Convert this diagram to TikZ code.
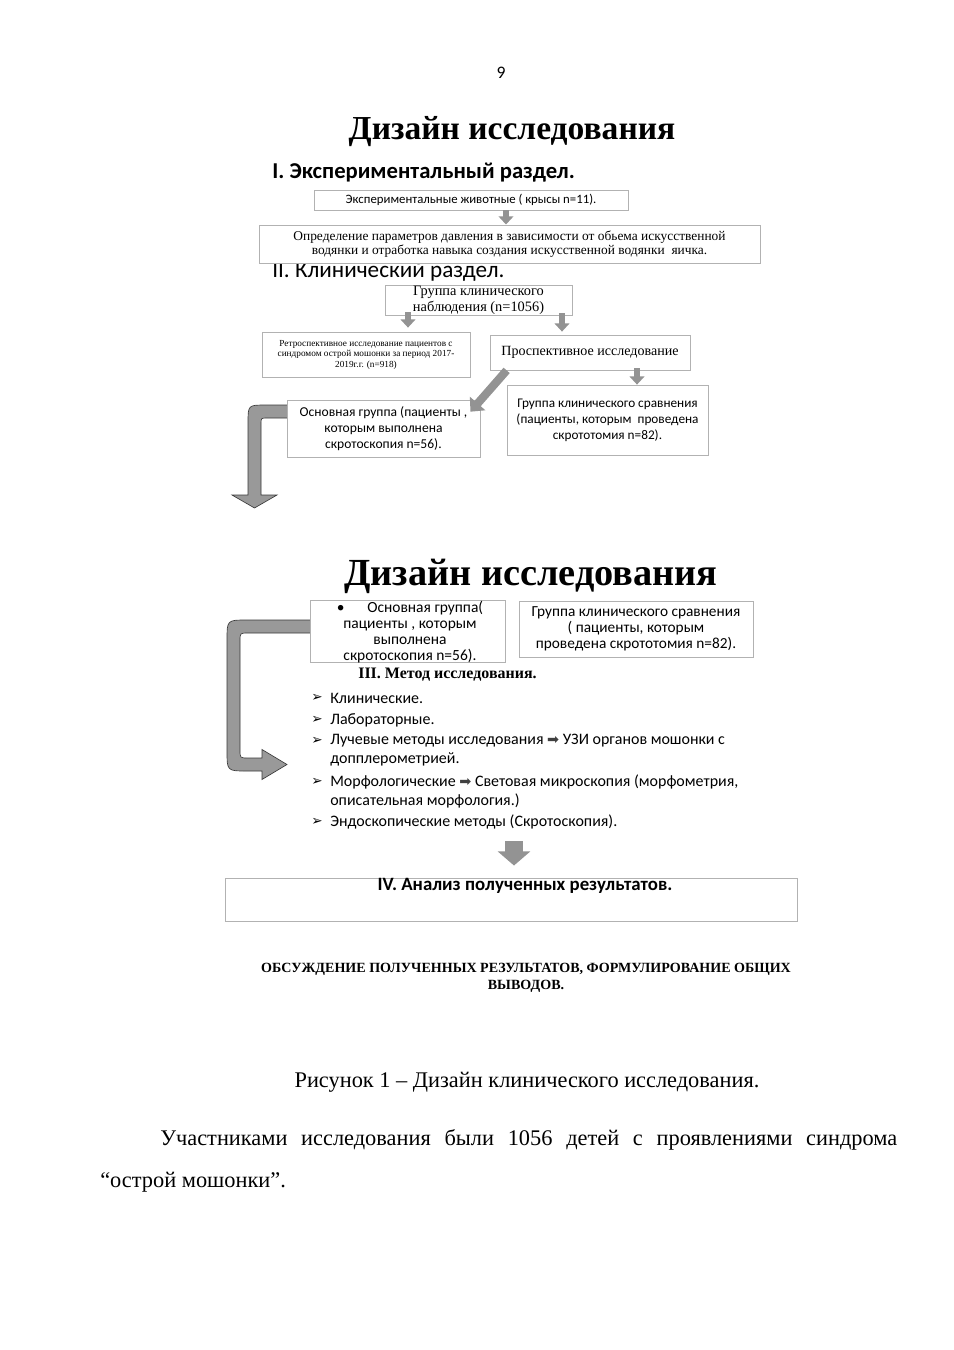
\documentclass[tikz,border=0pt]{standalone}
\usepackage{fontspec}
\setmainfont{Liberation Serif}
\newfontfamily\calibri{Carlito}
\newfontfamily\dejavu{DejaVu Sans}
\usepackage{tikz}
\usetikzlibrary{arrows.meta,positioning,calc}
\tikzset{
  box/.style={draw=gray!60, fill=white, line width=0.5pt, align=center,
              inner sep=0pt},
  ttl/.style={font=\bfseries\fontsize{21}{24}\selectfont, inner sep=0pt},
  sec/.style={anchor=west, inner sep=0pt},
  lst/.style={anchor=west, inner sep=0pt, align=left,
              font=\calibri\fontsize{10}{11.9}\selectfont},
  bul/.style={anchor=west, inner sep=0pt, font=\dejavu\fontsize{8.5}{9}\selectfont},
  blk/.style={line width=1.3mm, draw=gray!85,
              -{Triangle[width=3.2mm, length=1.8mm]}},
  blkd/.style={line width=1.8mm, draw=gray!85,
               -{Triangle[width=4.4mm, length=2.4mm]}},
  blkbig/.style={line width=4mm, draw=gray!85,
                 -{Triangle[width=7mm, length=3.1mm]}},
  bent/.style={fill=gray!80, draw=gray!45!black, line width=0.4pt},
}
\newcommand{\thickarr}{{\dejavu\color{gray!50!black}\fontsize{9}{9}\selectfont ➡}}

\begin{document}
\begin{tikzpicture}[x=0.2201mm, y=-0.2201mm]
  \useasboundingbox (0,0) rectangle (954,1350);
  \fill[white] (0,0) rectangle (954,1350);
  % page number and title
  \node[font=\calibri\fontsize{11}{13}\selectfont] (pg) at (501,73) {9};
  \node[ttl] (t1) at (512,132) {Дизайн исследования};
  % I. experimental part
  \node[sec, font=\calibri\bfseries\fontsize{14.2}{16}\selectfont] (s1)
    at (272,173) {I. Экспериментальный раздел.};
  \node[box, minimum width=69.1mm, minimum height=4.4mm,
        font=\calibri\fontsize{8}{9.5}\selectfont] (exp) at (471,200)
    {Экспериментальные животные ( крысы n=11).};
  % II. clinical part (heading sits partly under the box above)
  \node[sec, font=\calibri\fontsize{14.5}{16}\selectfont] (s2)
    at (272,272) {II. Клинический раздел.};
  \node[box, minimum width=110.3mm, minimum height=8.4mm,
        font=\fontsize{8.4}{9}\selectfont] (param) at (509.5,244)
    {Определение параметров давления в зависимости от обьема искусственной\\
     водянки и отработка навыка создания искусственной водянки\ \ яичка.};
  \node[box, minimum width=41.2mm, minimum height=6.6mm,
        font=\fontsize{9}{10}\selectfont] (obs) at (478.5,300)
    {Группа клинического\\наблюдения (n=1056)};
  \node[box, minimum width=45.8mm, minimum height=9.9mm,
        font=\fontsize{5.8}{6.6}\selectfont] (retro) at (366,354.5)
    {Ретроспективное исследование пациентов с\\
     синдромом острой мошонки за период 2017-\\2019г.г. (n=918)};
  \node[box, minimum width=44mm, minimum height=7.7mm,
        font=\fontsize{8.8}{10}\selectfont] (pros) at (590,352.5)
    {Проспективное исследование};
  % page-break arrow, drawn before the box that hides its tail
  \filldraw[bent] (292,405) -- (266,405) .. controls (248,405) .. (248,423)
    -- (248,495) -- (232,495) -- (254.5,508) -- (277,495) -- (261,495)
    -- (261,424) .. controls (261,418) .. (267,418) -- (292,418) -- cycle;
  \node[box, minimum width=42.5mm, minimum height=12.5mm,
        font=\calibri\fontsize{8.5}{10}\selectfont] (main) at (383.5,428.5)
    {Основная группа (пациенты ,\\которым выполнена\\скротоскопия n=56).};
  \node[box, minimum width=44.2mm, minimum height=15.4mm,
        font=\calibri\fontsize{8.3}{10}\selectfont] (comp) at (607.5,420)
    {Группа клинического сравнения\\(пациенты, которым\ \ проведена\\
     скрототомия n=82).};
  % flows, first page
  \draw[blk] ($(exp.south)+(35,0)$) -- ($(param.north)+(-3.5,0)$);
  \draw[blk] ($(obs.south)+(-70.5,-3)$) -- ($(retro.north)+(42,-4)$);
  \draw[blk] ($(obs.south)+(83.5,-2)$) -- ($(pros.north)+(-28,-3)$);
  \draw[blkd] ($(pros.south west)+(17,0)$) -- ($(main.north east)+(-10,12)$);
  \draw[blk] ($(pros.south)+(47,-2)$) -- ($(comp.north)+(29.5,0)$);

  % second part
  \node[ttl, font=\bfseries\fontsize{24}{28}\selectfont] (t2) at (531,576)
    {Дизайн исследования};
  \filldraw[bent] (315,620) -- (247,620) .. controls (227,620) .. (227,640)
    -- (227,751) .. controls (227,771) .. (247,771) -- (262,771)
    -- (262,779.5) -- (287,764.5) -- (262,749.5) -- (262,758) -- (248,758)
    .. controls (240,758) .. (240,750) -- (240,641) .. controls (240,633)
    .. (248,633) -- (315,633) -- cycle;
  \node[box, minimum width=42.9mm, minimum height=13.6mm] (main2)
    at (408,631) {};
  \node[align=center, inner sep=0pt,
        font=\calibri\fontsize{9.7}{10.1}\selectfont] (main2t) at (410,632)
    {•\hspace{5mm}Основная группа(\\пациенты , которым\\выполнена\\
     скротоскопия n=56).};
  \node[box, minimum width=51.5mm, minimum height=12.3mm,
        font=\calibri\fontsize{9.6}{10.1}\selectfont] (comp2) at (636,629)
    {Группа клинического сравнения\\( пациенты, которым\\
     проведена скрототомия n=82).};
  % III. methods
  \node[sec, font=\bfseries\fontsize{10}{12}\selectfont] (s3) at (358,675)
    {III. Метод исследования.};
  \node[bul] (b1) at (311,698) {➢};
  \node[lst] (li1) at (330,698) {Клинические.};
  \node[bul] (b2) at (311,720) {➢};
  \node[lst] (li2) at (330,720) {Лабораторные.};
  \node[bul] (b3) at (311,741) {➢};
  \node[lst] (li3) at (330,750.5)
    {Лучевые методы исследования \thickarr\ УЗИ органов мошонки с\\
     допплерометрией.};
  \node[bul] (b4) at (311,782) {➢};
  \node[lst] (li4) at (330,791)
    {Морфологические \thickarr\ Световая микроскопия (морфометрия,\\
     описательная морфология.)};
  \node[bul] (b5) at (311,822) {➢};
  \node[lst] (li5) at (330,822) {Эндоскопические методы (Скротоскопия).};
  % IV. analysis
  \node[box, minimum width=125.9mm, minimum height=9.5mm] (res)
    at (511,899.5) {};
  \node[font=\calibri\bfseries\fontsize{11.8}{13}\selectfont, inner sep=0pt]
    (rest) at ($(res.north)+(14,8)$) {IV. Анализ полученных результатов.};
  \draw[blkbig] ($(li5.south west)+(184,12)$) -- ($(res.north)+(3,-12)$);
  % conclusions
  \node[align=center, inner sep=0pt,
        font=\bfseries\fontsize{8.8}{10.6}\selectfont] (disc) at (526,978)
    {ОБСУЖДЕНИЕ ПОЛУЧЕННЫХ РЕЗУЛЬТАТОВ, ФОРМУЛИРОВАНИЕ ОБЩИХ\\ВЫВОДОВ.};
  % caption and running text
  \node[font=\fontsize{14}{16}\selectfont, inner sep=0pt] (cap) at (527,1082)
    {Рисунок 1 -- Дизайн клинического исследования.};
  \node[anchor=west, inner sep=0pt, font=\fontsize{14}{16}\selectfont] (p1)
    at (160,1140)
    {\makebox[162.2mm][s]{Участниками исследования были 1056 детей с проявлениями синдрома}};
  \node[anchor=west, inner sep=0pt, font=\fontsize{14}{16}\selectfont] (p2)
    at (100,1182) {“острой мошонки”.};
\end{tikzpicture}
\end{document}
